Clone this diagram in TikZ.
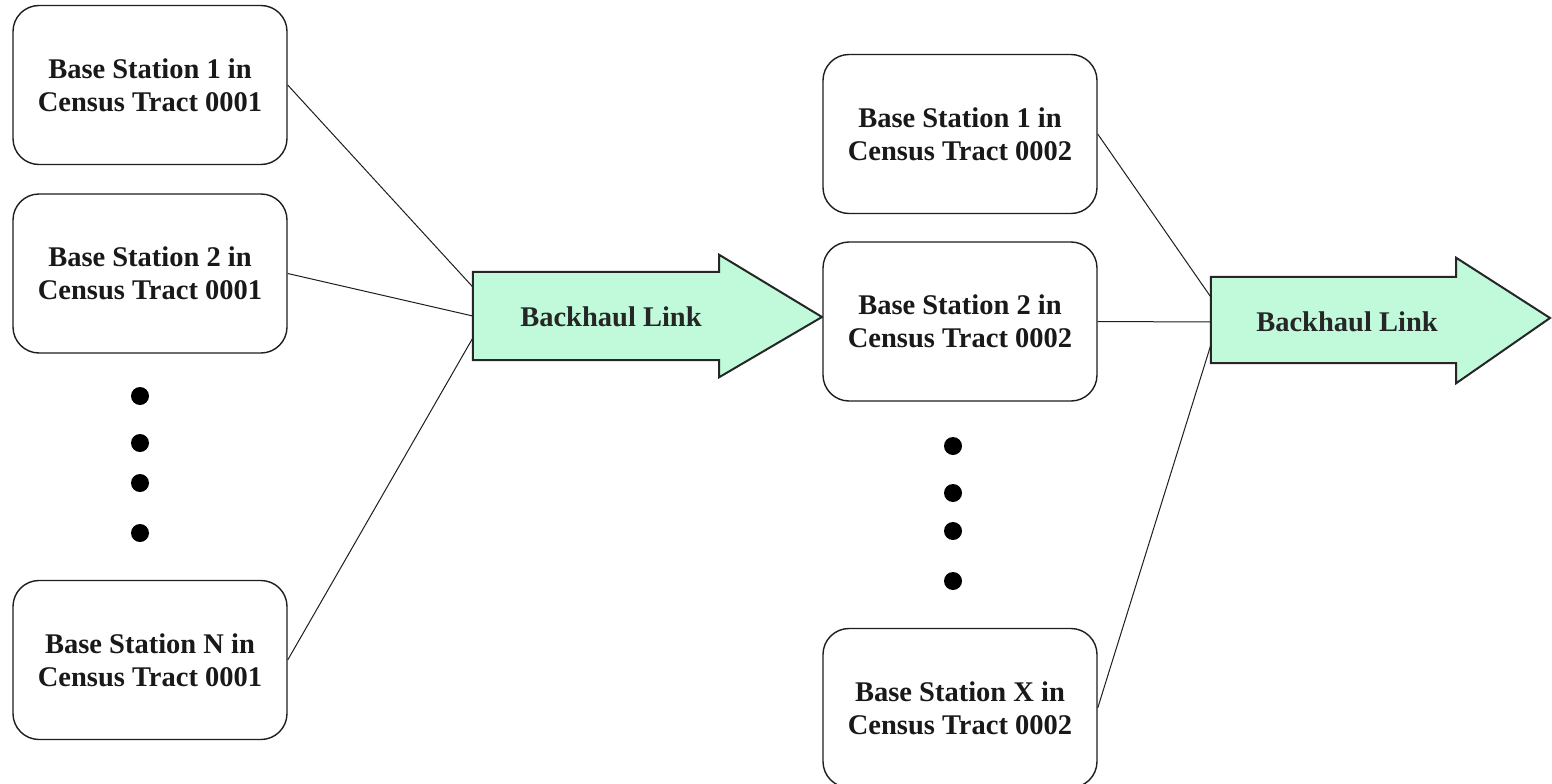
\documentclass[tikz,border=0pt]{standalone}
\usepackage{fontspec}
\setmainfont{Liberation Serif}
\definecolor{mint}{RGB}{192,250,218}
\definecolor{inkline}{RGB}{30,30,30}
\begin{document}
\begin{tikzpicture}[x=1pt,y=-1pt,
  station/.style={draw=inkline,line width=1.4pt,rounded corners=26pt,fill=white,
    minimum width=274pt,minimum height=159pt,align=center,
    font=\bfseries\fontsize{28.5}{33}\selectfont,text=black!90},
  body/.style={minimum height=88pt,inner sep=0pt,
    font=\bfseries\fontsize{28.5}{33}\selectfont,text=black!85},
  outline/.style={draw=black!85,line width=2pt,fill=mint,line join=miter},
  link/.style={draw=inkline,line width=1pt},
  dot/.style={circle,fill=black,inner sep=0pt,minimum size=18pt}]
\clip (0,0) rectangle (1552,784);
\fill[white] (0,0) rectangle (1552,784);

% left column
\node[station] (b1) at (150,85) {Base Station 1 in\\Census Tract 0001};
\node[station] (b2) at (150,273.5) {Base Station 2 in\\Census Tract 0001};
\node[station] (bN) at (150,660) {Base Station N in\\Census Tract 0001};
\node[dot] (d1) at (140,396) {};
\node[dot] (d2) at (140,443) {};
\node[dot] (d3) at (140,483) {};
\node[dot] (d4) at (140,533) {};

% first backhaul arrow
\node[body,minimum width=246pt,minimum height=88pt] (bh1) at (596,316) {};
\path[outline] (bh1.north west) -- (bh1.north east) -- ++(0,-17) -- (822,317)
  -- ([yshift=-17pt]bh1.south east) -- (bh1.south east) -- (bh1.south west) -- cycle;
\node[body,anchor=center] (t1) at (611,317) {Backhaul Link};
\coordinate (i1a) at ([yshift=29pt]bh1.west);
\coordinate (i1b) at (bh1.west);
\coordinate (i1c) at ([yshift=-22pt]bh1.west);
\draw[link] (b1.east) -- (i1a);
\draw[link] (b2.east) -- (i1b);
\draw[link] (bN.east) -- (i1c);

% right column
\node[station] (c1) at (960,134) {Base Station 1 in\\Census Tract 0002};
\node[station] (c2) at (960,321.5) {Base Station 2 in\\Census Tract 0002};
\node[station] (cX) at (960,708) {Base Station X in\\Census Tract 0002};
\node[dot] (e1) at (953,446) {};
\node[dot] (e2) at (953,493) {};
\node[dot] (e3) at (953,531) {};
\node[dot] (e4) at (953,581) {};

% second backhaul arrow
\node[body,minimum width=245pt,minimum height=86pt] (bh2) at (1333.5,320) {};
\path[outline] (bh2.north west) -- (bh2.north east) -- ++(0,-19) -- (1550,318)
  -- ([yshift=-20pt]bh2.south east) -- (bh2.south east) -- (bh2.south west) -- cycle;
\node[body,anchor=center] (t2) at (1347,322) {Backhaul Link};
\coordinate (i2a) at ([yshift=23pt]bh2.west);
\coordinate (i2b) at ([yshift=-2pt]bh2.west);
\coordinate (i2c) at ([yshift=-25pt]bh2.west);
\draw[link] (c1.east) -- (i2a);
\draw[link] (c2.east) -- (i2b);
\draw[link] (cX.east) -- (i2c);
\end{tikzpicture}
\end{document}
